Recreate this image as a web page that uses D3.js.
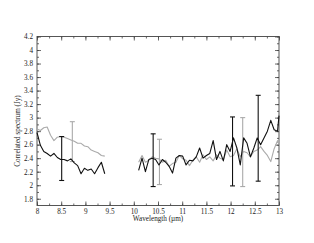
<!DOCTYPE html>
<html>
<head>
<meta charset="utf-8">
<script src="https://cdn.jsdelivr.net/npm/d3@7"></script>
<style>
  body { margin: 0; background: #fff; }
  text { font-family: "Liberation Serif", "DejaVu Serif", serif; fill: #222; }
</style>
</head>
<body>
<svg width="314" height="243"></svg>
<script>
// wavelength grid (micron) and correlated flux (Jy)
var wl1 = [8.00, 8.07, 8.14, 8.21, 8.28, 8.35, 8.42, 8.49, 8.56, 8.63, 8.70,
           8.77, 8.84, 8.91, 8.98, 9.05, 9.12, 9.19, 9.26, 9.33, 9.40];
var black1 = [2.78, 2.59, 2.50, 2.47, 2.43, 2.47, 2.41, 2.38, 2.38, 2.36, 2.39,
              2.33, 2.29, 2.17, 2.25, 2.22, 2.24, 2.17, 2.26, 2.34, 2.17];
var gray1 = [2.83, 2.81, 2.85, 2.86, 2.74, 2.66, 2.71, 2.72, 2.71, 2.69, 2.67,
             2.65, 2.62, 2.62, 2.58, 2.57, 2.52, 2.50, 2.48, 2.44, 2.43];

var wl2 = [10.10, 10.17, 10.24, 10.31, 10.38, 10.45, 10.52, 10.59, 10.66, 10.73,
           10.80, 10.87, 10.94, 11.01, 11.08, 11.15, 11.22, 11.29, 11.36, 11.43,
           11.50, 11.57, 11.64, 11.71, 11.78, 11.85, 11.92, 11.99, 12.06, 12.13,
           12.20, 12.27, 12.34, 12.41, 12.48, 12.55, 12.62, 12.69, 12.76, 12.83,
           12.90, 12.97, 13.00];
var black2 = [2.22, 2.40, 2.20, 2.38, 2.40, 2.38, 2.30, 2.38, 2.34, 2.28,
              2.18, 2.40, 2.44, 2.43, 2.30, 2.37, 2.36, 2.42, 2.55, 2.40,
              2.44, 2.47, 2.66, 2.38, 2.50, 2.36, 2.60, 2.50, 2.70, 2.55,
              2.30, 2.70, 2.62, 2.42, 2.55, 2.70, 2.60, 2.70, 2.80, 2.96,
              2.82, 2.80, 3.03];
var gray2 = [2.34, 2.44, 2.34, 2.37, 2.42, 2.40, 2.39, 2.34, 2.37, 2.28,
             2.32, 2.34, 2.44, 2.39, 2.37, 2.29, 2.37, 2.42, 2.34, 2.45,
             2.38, 2.42, 2.36, 2.45, 2.40, 2.38, 2.52, 2.42, 2.44, 2.54,
             2.42, 2.50, 2.48, 2.42, 2.50, 2.52, 2.57, 2.50, 2.44, 2.35,
             2.54, 2.66, 2.60];

// error bars: [wavelength, low, high]
var blackErr = [[8.51, 2.07, 2.72], [10.40, 1.98, 2.76], [12.04, 1.99, 3.01], [12.57, 2.06, 3.33]];
var grayErr = [[8.73, 2.35, 2.94], [10.53, 2.01, 2.68], [12.25, 1.98, 3.00]];

var xTicks = [8, 8.5, 9, 9.5, 10, 10.5, 11, 11.5, 12, 12.5, 13];
var yTicks = [1.8, 2, 2.2, 2.4, 2.6, 2.8, 3, 3.2, 3.4, 3.6, 3.8, 4, 4.2];

var svg = d3.select('svg');
var pLeft = 37, pRight = 279, pTop = 36.5, pBottom = 205.5;

var x = d3.scaleLinear().domain([8, 13]).range([pLeft, pRight]);
var y = d3.scaleLinear().domain([1.7, 4.2]).range([pBottom, pTop]);

var fmt = function(d) { return String(+d.toFixed(2)); };
var xMinor = d3.range(32, 53).map(function(i) { return i / 4; });
var yMinor = d3.range(18, 43).map(function(i) { return i / 10; });

var axisColor = '#444';

function drawAxis(axis, tx, ty) {
  var g = svg.append('g').attr('transform', 'translate(' + tx + ',' + ty + ')').call(axis);
  g.selectAll('path, line').attr('stroke', axisColor).attr('stroke-width', 0.8);
  g.selectAll('text').attr('font-size', 7.2).attr('fill', '#222')
    .style('font-family', '"Liberation Serif", serif');
  g.select('.domain').remove();
  return g;
}

// minor ticks
drawAxis(d3.axisBottom(x).tickValues(xMinor).tickSize(-2).tickFormat(''), 0, pBottom);
drawAxis(d3.axisTop(x).tickValues(xMinor).tickSize(-2).tickFormat(''), 0, pTop);
drawAxis(d3.axisLeft(y).tickValues(yMinor).tickSize(-2).tickFormat(''), pLeft, 0);
drawAxis(d3.axisRight(y).tickValues(yMinor).tickSize(-2).tickFormat(''), pRight, 0);

// major ticks with labels
drawAxis(d3.axisBottom(x).tickValues(xTicks).tickSize(-4).tickPadding(3).tickFormat(fmt), 0, pBottom);
drawAxis(d3.axisTop(x).tickValues(xTicks).tickSize(-4).tickFormat(''), 0, pTop);
drawAxis(d3.axisLeft(y).tickValues(yTicks).tickSize(-4).tickPadding(4).tickFormat(fmt), pLeft, 0);
drawAxis(d3.axisRight(y).tickValues(yTicks).tickSize(-4).tickFormat(''), pRight, 0);

// frame
svg.append('rect')
  .attr('x', pLeft).attr('y', pTop)
  .attr('width', pRight - pLeft).attr('height', pBottom - pTop)
  .attr('fill', 'none').attr('stroke', axisColor).attr('stroke-width', 0.9);

var line = d3.line()
  .x(function(d) { return x(d[0]); })
  .y(function(d) { return y(d[1]); });

function series(wl, vals, color) {
  svg.append('path')
    .datum(d3.zip(wl, vals))
    .attr('d', line)
    .attr('fill', 'none')
    .attr('stroke', color)
    .attr('stroke-width', 1.1)
    .attr('stroke-linejoin', 'round');
}

function errBars(data, color) {
  var g = svg.append('g').attr('stroke', color).attr('stroke-width', 1.1);
  data.forEach(function(d) {
    g.append('line').attr('x1', x(d[0])).attr('x2', x(d[0])).attr('y1', y(d[1])).attr('y2', y(d[2]));
    g.append('line').attr('x1', x(d[0]) - 2.5).attr('x2', x(d[0]) + 2.5).attr('y1', y(d[1])).attr('y2', y(d[1]));
    g.append('line').attr('x1', x(d[0]) - 2.5).attr('x2', x(d[0]) + 2.5).attr('y1', y(d[2])).attr('y2', y(d[2]));
  });
}

var gray = '#aaaaaa', black = '#111111';

series(wl1, gray1, gray);
series(wl2, gray2, gray);
errBars(grayErr, gray);
series(wl1, black1, black);
series(wl2, black2, black);
errBars(blackErr, black);

svg.append('text')
  .attr('x', (pLeft + pRight) / 2).attr('y', 221)
  .attr('text-anchor', 'middle').attr('font-size', 7.2)
  .text('Wavelength (\u00b5m)');

svg.append('text')
  .attr('transform', 'translate(20,' + 131 + ') rotate(-90)')
  .attr('text-anchor', 'middle').attr('font-size', 7.2)
  .text('Correlated spectrum (Jy)');
</script>
</body>
</html>
